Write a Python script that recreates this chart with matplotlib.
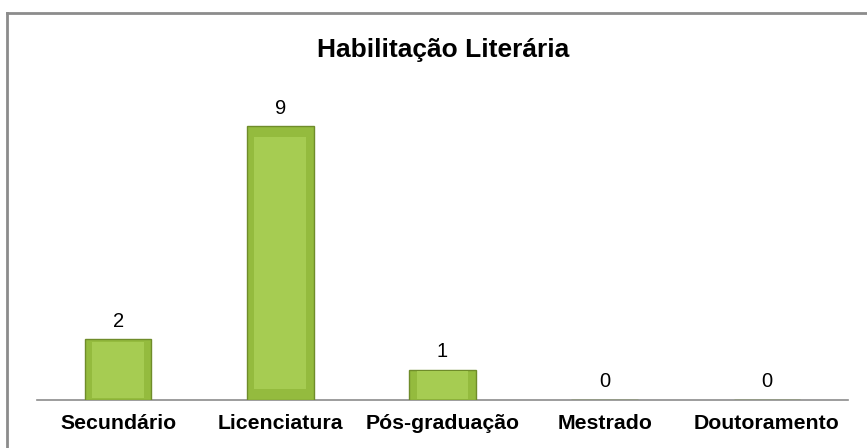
import matplotlib
matplotlib.use("Agg")
import matplotlib.pyplot as plt
from matplotlib.lines import Line2D

categories = ["Secundário", "Licenciatura", "Pós-graduação", "Mestrado", "Doutoramento"]
values = [2, 9, 1, 0, 0]
title = "Habilitação Literária"

plt.rcParams['font.family'] = ['Liberation Sans', 'DejaVu Sans']

fig = plt.figure(figsize=(8.67, 4.48), dpi=100)
W, H = 867, 448
ax = fig.add_axes([37 / W, 1 - 400 / H, (848 - 37) / W, (400 - 96) / H])

x = list(range(len(categories)))
ax.bar(x, values, width=0.41, color="#94bb3e", edgecolor="#6f8c2a", linewidth=1.0, zorder=3)
# lighter inner face for a bevel-like look
ax.bar(x, [v * 0.92 for v in values], width=0.32,
       bottom=[v * 0.04 for v in values], color="#a6cc52", linewidth=0, zorder=4)

for xi, v in zip(x, values):
    ax.text(xi, v + 0.28, str(v), ha="center", va="bottom", fontsize=14.5, color="#000000")

ax.set_xlim(-0.5, len(categories) - 0.5)
ax.set_ylim(0, 10)
ax.set_xticks(x)
ax.set_xticklabels(categories, fontsize=15.3, fontweight="bold")
ax.tick_params(axis="x", length=0, pad=10)
ax.set_yticks([])
for s in ["top", "right", "left"]:
    ax.spines[s].set_visible(False)
ax.spines["bottom"].set_color("#8c8c8c")
ax.spines["bottom"].set_linewidth(1.2)

fig.text(443 / W, 1 - 50 / H, title, ha="center", va="center", fontsize=19, fontweight="bold")

# outer chart border (top and left visible)
fig.add_artist(Line2D([7 / W, 1.0], [1 - 13 / H, 1 - 13 / H], transform=fig.transFigure,
                      color="#8c8c8c", linewidth=2))
fig.add_artist(Line2D([7 / W, 7 / W], [0.0, 1 - 13 / H], transform=fig.transFigure,
                      color="#8c8c8c", linewidth=2))

fig.savefig("out.png", dpi=100)
